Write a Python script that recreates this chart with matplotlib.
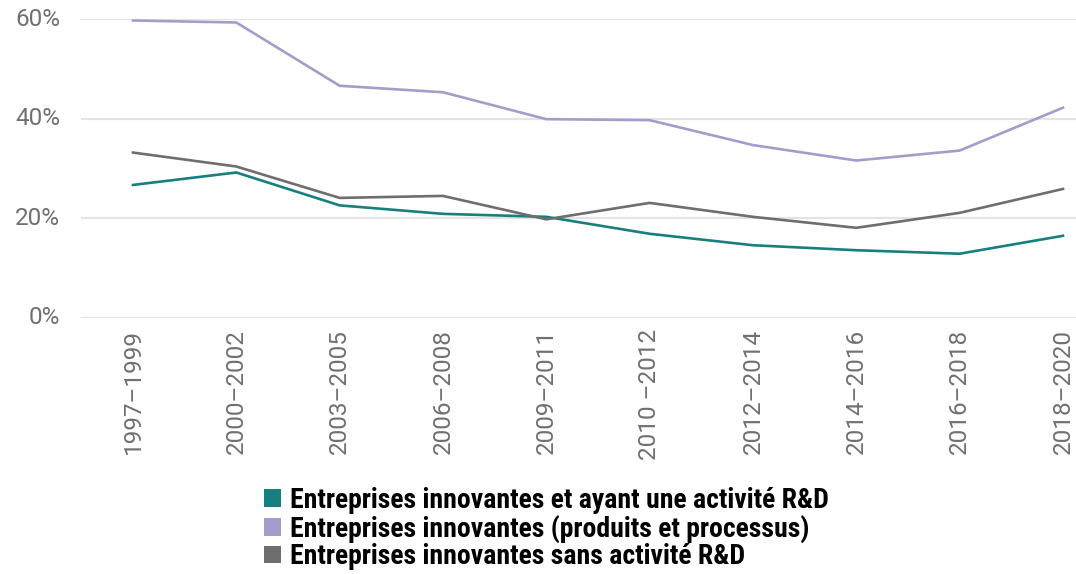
import matplotlib
matplotlib.use("Agg")
from matplotlib import pyplot as plt
from matplotlib.patches import Patch
from matplotlib import font_manager
import numpy as np

periods = ["1997–1999", "2000–2002", "2003–2005", "2006–2008", "2009–2011",
           "2010 –2012", "2012–2014", "2014–2016", "2016–2018", "2018–2020"]

# share of firms, in percent
rd_innov = [26.7, 29.2, 22.6, 20.9, 20.3, 16.9, 14.6, 13.6, 12.9, 16.5]
all_innov = [59.7, 59.3, 46.6, 45.3, 39.9, 39.7, 34.7, 31.6, 33.6, 42.2]
no_rd_innov = [33.2, 30.4, 24.1, 24.5, 19.8, 23.1, 20.3, 18.1, 21.1, 25.9]

names = ["Entreprises innovantes et ayant une activité R&D",
         "Entreprises innovantes (produits et processus)",
         "Entreprises innovantes sans activité R&D"]
colors = ["#17807f", "#a49dcb", "#6e6e6e"]

fams = {f.name for f in font_manager.fontManager.ttflist}
tick_font = "Roboto" if "Roboto" in fams else "DejaVu Sans"
leg_font = "Roboto Condensed" if "Roboto Condensed" in fams else "Roboto"

fig = plt.figure(figsize=(10.76, 5.74), dpi=100)
ax = fig.add_axes([81 / 1076, 1 - 318 / 574, 1 - 81 / 1076, (318 - 19) / 574])

x = np.arange(len(periods))
for vals, col in zip([rd_innov, all_innov, no_rd_innov], colors):
    ax.plot(x, vals, color=col, lw=1.9, solid_joinstyle="round", zorder=3)

ax.set_ylim(0, 60)
ax.set_xlim(-0.503, 9.126)
ax.set_yticks([0, 20, 40, 60])
ax.set_yticklabels(["0%", "20%", "40%", "60%"])
ax.set_xticks(x)
ax.set_xticklabels(periods, rotation=90)
ax.grid(axis="y", color="#e4e4e4", lw=1.6, zorder=0)
ax.set_axisbelow(True)
for s in ax.spines.values():
    s.set_visible(False)
ax.tick_params(length=0, colors="#707070", labelsize=17.5)
ax.tick_params(axis="y", pad=15)
ax.tick_params(axis="x", pad=8)
for lab in ax.get_xticklabels() + ax.get_yticklabels():
    lab.set_fontfamily(tick_font)
for lab in ax.get_yticklabels():
    lab.set_verticalalignment("center")

handles = [Patch(facecolor=c, edgecolor="none") for c in colors]
fig.legend(handles, names, loc="upper left", bbox_to_anchor=(264 / 1076, 1 - 487 / 574),
           frameon=False, handlelength=0.6, handleheight=0.6, handletextpad=0.33,
           labelspacing=0.02, borderaxespad=0, borderpad=0,
           prop={"family": leg_font, "weight": "bold", "size": 20})

fig.savefig("out.png", dpi=100)
